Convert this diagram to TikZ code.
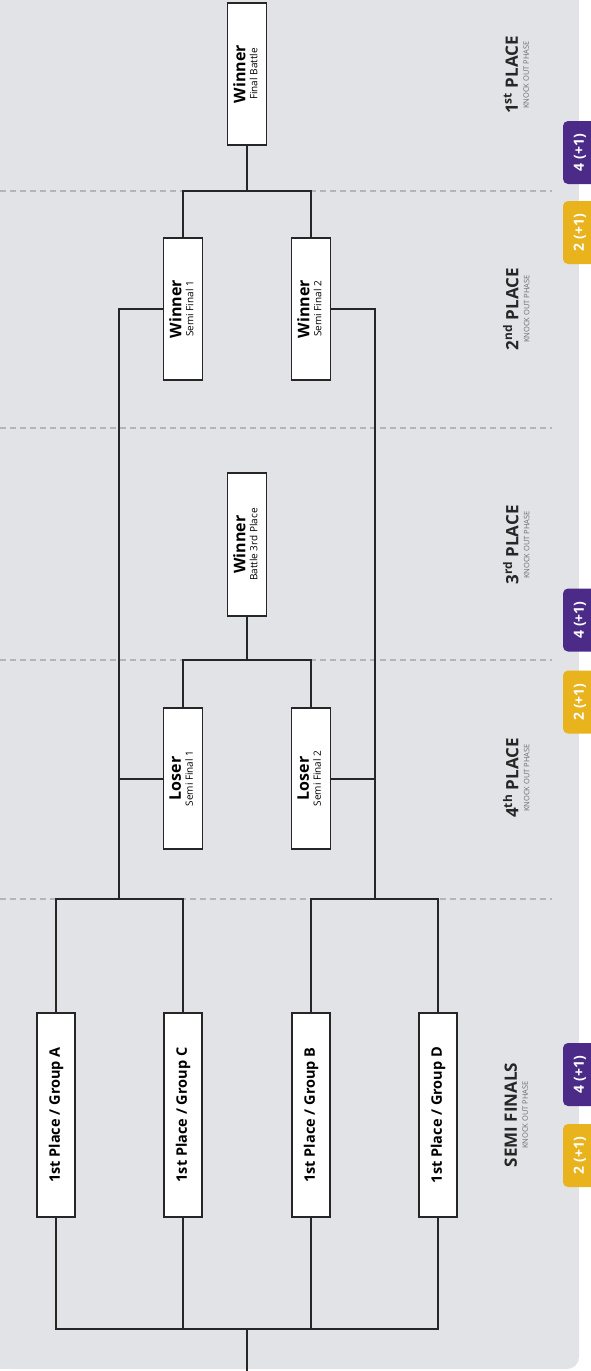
\documentclass[tikz,border=0pt]{standalone}
\usepackage{fontspec}
\setmainfont{Open Sans}
\usepackage{graphicx}
\definecolor{bg}{HTML}{E2E3E6}
\definecolor{dashc}{HTML}{B4B5B8}
\definecolor{ln}{HTML}{262626}
\definecolor{purp}{HTML}{4B2A88}
\definecolor{yel}{HTML}{E8B31C}
\definecolor{subc}{HTML}{6E6E6E}
\newcommand{\twoline}[2]{\rotatebox{90}{\fontsize{10}{12}\selectfont\begin{tabular}{@{}c@{}}{\fontsize{16}{16}\selectfont\bfseries #1}\\[0pt]{\fontsize{10}{10}\selectfont #2}\end{tabular}}}
\newcommand{\oneline}[1]{\rotatebox{90}{\fontsize{14.5}{15}\selectfont\bfseries #1}}
\newcommand{\phasetxt}[1]{\rotatebox{90}{\fontsize{10}{12}\selectfont\begin{tabular}{@{}c@{}}{\fontsize{17}{17}\selectfont\bfseries #1}\\[-1pt]{\fontsize{7.5}{8}\selectfont\color{subc}KNOCK OUT PHASE}\end{tabular}}}
\begin{document}
\begin{tikzpicture}[x=1pt,y=-1pt,
  box/.style={draw=ln,line width=1.7pt,fill=white,inner sep=0pt,minimum width=39pt,text=black},
  conn/.style={draw=ln,line width=2pt},
  sepline/.style={draw=dashc,line width=1.8pt,dash pattern=on 6pt off 4pt},
  badge/.style={rounded corners=5pt,inner sep=0pt,minimum width=34pt,minimum height=63pt,text=white,font=\fontsize{14}{14}\selectfont\bfseries},
  phase/.style={inner sep=0pt,text=black!85}
]
\useasboundingbox (0,0) rectangle (591,1371);
\clip (0,0) rectangle (591,1371);
% background
\fill[bg] (0,0) rectangle (579,1340);
\fill[bg,rounded corners=12pt] (0,1300) rectangle (579,1369);
\fill[bg] (0,1300) rectangle (100,1369);
% separators
\foreach \yy in {191,428,660,899} \draw[sepline] (0,\yy) -- (552,\yy);
% boxes
\node[box,minimum height=142pt] (fin) at (247,74) {\twoline{Winner}{Final Battle}};
\node[box,minimum height=142pt] (sf1) at (183,309) {\twoline{Winner}{Semi Final 1}};
\node[box,minimum height=142pt] (sf2) at (311,309) {\twoline{Winner}{Semi Final 2}};
\node[box,minimum height=143pt] (third) at (247,544.5) {\twoline{Winner}{Battle 3rd Place}};
\node[box,minimum height=141pt] (l1) at (183,778.5) {\twoline{Loser}{Semi Final 1}};
\node[box,minimum height=141pt] (l2) at (311,778.5) {\twoline{Loser}{Semi Final 2}};
\node[box,minimum height=204pt,minimum width=38pt] (gA) at (56,1115) {\oneline{1st Place / Group A}};
\node[box,minimum height=204pt,minimum width=38pt] (gC) at (183,1115) {\oneline{1st Place / Group C}};
\node[box,minimum height=204pt,minimum width=38pt] (gB) at (311,1115) {\oneline{1st Place / Group B}};
\node[box,minimum height=204pt,minimum width=38pt] (gD) at (438,1115) {\oneline{1st Place / Group D}};
% junctions
\coordinate (j1) at (247,191);
\coordinate (j3) at (247,660);
\coordinate (jl) at (119,899);
\coordinate (jr) at (375,899);
\coordinate (jb) at (247,1329);
\coordinate (out) at (247,1371);
% connectors
\draw[conn] (fin.south) -- (j1);
\draw[conn] (sf1.north) |- (j1) -| (sf2.north);
\draw[conn] (sf1.west) -| (jl);
\draw[conn] (sf2.east) -| (jr);
\draw[conn] (l1.west) -- (l1.west -| jl);
\draw[conn] (l2.east) -- (l2.east -| jr);
\draw[conn] (third.south) -- (j3);
\draw[conn] (l1.north) |- (j3) -| (l2.north);
\draw[conn] (gA.north) |- (jl) -| (gC.north);
\draw[conn] (gB.north) |- (jr) -| (gD.north);
\draw[conn] (gA.south) |- (jb) -| (gD.south);
\draw[conn] (gC.south) -- (gC.south |- jb);
\draw[conn] (gB.south) -- (gB.south |- jb);
\draw[conn] (jb) -- (out);
% phase labels
\node[phase] (p1) at (518,75) {\phasetxt{1\textsuperscript{st} PLACE}};
\node[phase] (p2) at (518,309) {\phasetxt{2\textsuperscript{nd} PLACE}};
\node[phase] (p3) at (518,545) {\phasetxt{3\textsuperscript{rd} PLACE}};
\node[phase] (p4) at (518,778) {\phasetxt{4\textsuperscript{th} PLACE}};
\node[phase] (p5) at (518,1115) {\phasetxt{SEMI FINALS}};
% badges
\node[badge,fill=purp] (b1p) at (580,152.5) {\rotatebox{90}{4 (+1)}};
\node[badge,fill=yel] (b1y) at (580,232.5) {\rotatebox{90}{2 (+1)}};
\node[badge,fill=purp] (b2p) at (580,620) {\rotatebox{90}{4 (+1)}};
\node[badge,fill=yel] (b2y) at (580,702) {\rotatebox{90}{2 (+1)}};
\node[badge,fill=purp] (b3p) at (580,1074.5) {\rotatebox{90}{4 (+1)}};
\node[badge,fill=yel] (b3y) at (580,1155.5) {\rotatebox{90}{2 (+1)}};
\end{tikzpicture}
\end{document}
